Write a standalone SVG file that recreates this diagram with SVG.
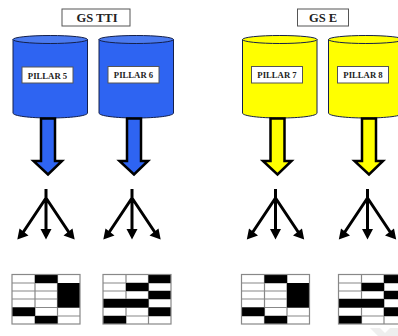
<svg xmlns="http://www.w3.org/2000/svg" width="398" height="336" viewBox="0 0 398 336">
<style>
.lbl{fill:#fff;stroke:#555;stroke-width:1}
.t{font-family:"Liberation Serif",serif;font-weight:bold;fill:#222;text-anchor:middle}
.p{font-size:8.700px}
.h{font-size:12.500px}
.body{stroke:#14204a;stroke-width:1}
.blue{fill:#2e64f2}
.yel{fill:#ffff00}
.ba{stroke:#000;stroke-width:2.500;stroke-linejoin:miter}
.st{fill:none;stroke:#000;stroke-width:3}
.hd{fill:#000}
.g{fill:#fff}
.gl{stroke:#888;stroke-width:1.200;fill:none}
.b{fill:#000}
</style>
<defs>
<g id="tri">
<path class="st" d="M0 0V43M0 9L-24 45M0 9L24 45"/>
<path class="hd" d="M-28.700 50.500L-26.500 39.500L-17.500 46.500ZM0 50.500L-5.500 40H5.500ZM28.700 50.500L17.500 46.500L26.500 39.500Z"/>
</g>
<g id="grid1">
<rect class="g" width="68" height="49.500"/>
<path class="gl" d="M0 8.500H45.500M0 16.500H45.500M0 24.500H45.500M0 33H68M0 41.500H68M23 0V49.500M45.500 0V49.500"/>
<path class="b" d="M23 0H45.500V8.500H23ZM45.500 8.500H68V33H45.500ZM0 33H23V41.500H0ZM23 41.500H45.500V49.500H23Z"/>
<rect class="gl" width="68" height="49.500"/>
</g>
<g id="grid2">
<rect class="g" width="68" height="49.500"/>
<path class="gl" d="M0 8.500H68M0 16.500H68M0 24.500H68M0 33H68M0 41.500H68M23 0V24.500M23 33V49.500M45.500 0V49.500"/>
<path class="b" d="M45.500 0H68V8.500H45.500ZM23 8.500H45.500V16.500H23ZM45.500 16.500H68V24.500H45.500ZM0 24.500H45.500V33H0ZM45.500 33H68V41.500H45.500ZM0 41.500H23V49.500H0Z"/>
<rect class="gl" width="68" height="49.500"/>
</g>
</defs>
<g id="watermark"><path d="M370 328H380L385 333L390 328H398V336H378Z" fill="#eeeeee"/></g>
<g id="gs-tti"><rect class="lbl" x="62" y="9" width="68" height="17"/><text class="t h" x="97" y="22">GS TTI</text></g>
<g id="gs-e"><rect class="lbl" x="297.500" y="9" width="51" height="17"/><text class="t h" x="323" y="22">GS E</text></g>
<g id="pillar-5">
<path class="body blue" d="M13 39.500V113C13 116 30 118 50 118S87.500 116 87.500 113V39.500Z"/>
<ellipse class="body" fill="#4a7af0" cx="50.200" cy="39.500" rx="37.300" ry="4"/>
<rect class="lbl" x="22" y="67" width="51" height="16"/><text class="t p" x="47.500" y="78.500">PILLAR 5</text>
</g>
<g id="pillar-6">
<path class="body blue" d="M99 39.500V113C99 116 116 118 136 118S173.500 116 173.500 113V39.500Z"/>
<ellipse class="body" fill="#4a7af0" cx="136.200" cy="39.500" rx="37.300" ry="4"/>
<rect class="lbl" x="108" y="66.500" width="51" height="16.500"/><text class="t p" x="133.500" y="77.500">PILLAR 6</text>
</g>
<g id="pillar-7">
<path class="body yel" d="M242.500 39.500V113C242.500 116 260 118 280 118S317 116 317 113V39.500Z"/>
<ellipse class="body yel" cx="279.800" cy="39.500" rx="37.300" ry="4"/>
<rect class="lbl" x="251.500" y="66.500" width="51" height="16.500"/><text class="t p" x="277" y="77.500">PILLAR 7</text>
</g>
<g id="pillar-8">
<path class="body yel" d="M328.500 39.500V113C328.500 116 346 118 366 118S403 116 403 113V39.500Z"/>
<ellipse class="body yel" cx="365.800" cy="39.500" rx="37.300" ry="4"/>
<rect class="lbl" x="337.500" y="66.500" width="51" height="16.500"/><text class="t p" x="363" y="78">PILLAR 8</text>
</g>
<g id="connectors">
<path class="ba blue" d="M41 118.500H55V161H62L48 174.500L33.500 161H41Z"/>
<path class="ba blue" d="M127 118.500H141V161H148L134 174.500L119.500 161H127Z"/>
<path class="ba yel" d="M270.500 118.500H284.500V161H291.500L277.500 174.500L263 161H270.500Z"/>
<path class="ba yel" d="M362 118.500H376V161H383L369 174.500L354.500 161H362Z"/>
<use href="#tri" x="46" y="189"/>
<use href="#tri" x="132" y="189"/>
<use href="#tri" x="275.500" y="189"/>
<use href="#tri" x="367.500" y="189"/>
</g>
<g id="table-1"><use href="#grid1" x="12" y="274.500"/></g>
<g id="table-2"><use href="#grid2" x="103" y="274.500"/></g>
<g id="table-3"><use href="#grid1" x="241.500" y="274.500"/></g>
<g id="table-4"><use href="#grid2" x="338.500" y="274.500"/></g>
</svg>
